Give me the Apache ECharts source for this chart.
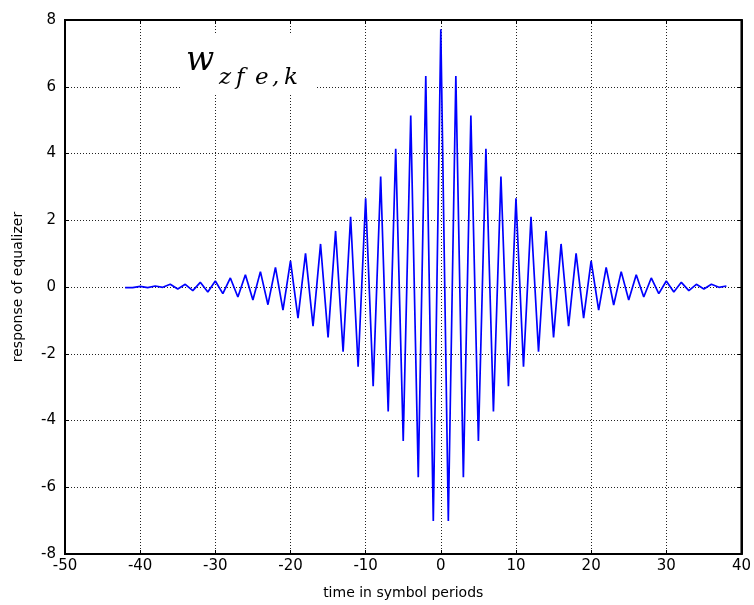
<!DOCTYPE html>
<html>
<head>
<meta charset="utf-8">
<script src="https://cdn.jsdelivr.net/npm/echarts@6/dist/echarts.min.js"></script>
<style>
    html, body { margin: 0; padding: 0; background: #fff; }
    #chart { width: 754px; height: 605px; }
</style>
</head>
<body>
<div id="chart"></div>
<script>
    // time index k (symbol periods)
    var timeSteps = [-42, -41, -40, -39, -38, -37, -36, -35, -34, -33, -32, -31, -30, -29, -28, -27,
        -26, -25, -24, -23, -22, -21, -20, -19, -18, -17, -16, -15, -14, -13, -12, -11, -10,
        -9, -8, -7, -6, -5, -4, -3, -2, -1, 0, 1, 2, 3, 4, 5, 6, 7, 8, 9, 10, 11, 12, 13, 14,
        15, 16, 17, 18, 19, 20, 21, 22, 23, 24, 25, 26, 27, 28, 29, 30, 31, 32, 33, 34, 35,
        36, 37, 38];
    // equalizer taps w_zfe,k
    var responseValues = [-0.02, -0.02, 0.02, -0.02, 0.03, -0.01, 0.08, -0.06, 0.08, -0.11, 0.14,
        -0.15, 0.18, -0.20, 0.27, -0.30, 0.37, -0.39, 0.46, -0.53, 0.59, -0.69, 0.78, -0.93,
        1.01, -1.17, 1.29, -1.51, 1.68, -1.94, 2.10, -2.39, 2.66, -2.97, 3.31, -3.73, 4.14,
        -4.61, 5.14, -5.70, 6.32, -7.01, 7.72, -7.01, 6.32, -5.70, 5.14, -4.61, 4.14, -3.73,
        3.31, -2.97, 2.66, -2.39, 2.10, -1.94, 1.68, -1.51, 1.29, -1.17, 1.01, -0.93, 0.78,
        -0.69, 0.59, -0.54, 0.46, -0.39, 0.37, -0.30, 0.27, -0.20, 0.18, -0.15, 0.14, -0.11,
        0.08, -0.06, 0.08, -0.01, 0.03];
    var xTicks = [-50, -40, -30, -20, -10, 0, 10, 20, 30, 40];
    var yTicks = [-8, -6, -4, -2, 0, 2, 4, 6, 8];

    var seriesData = timeSteps.map(function (t, i) { return [t, responseValues[i]]; });

    var labelFont = 'DejaVu Sans';
    var subFont = 'italic 23px "DejaVu Serif"';
    var gridLine = { show: true, lineStyle: { color: '#222', width: 1, type: [1, 2] } };

    var myChart = echarts.init(document.getElementById('chart'));
    var option = {
        animation: false,
        grid: { left: 65, right: 10, top: 20, bottom: 47, show: true, borderColor: '#000', borderWidth: 2 },
        xAxis: [{
            type: 'value',
            min: xTicks[0],
            max: xTicks[xTicks.length - 1],
            interval: 10,
            name: 'time in symbol periods',
            nameLocation: 'middle',
            nameGap: 32,
            nameTextStyle: { color: '#000', fontSize: 14, fontFamily: labelFont },
            axisLine: { show: true, onZero: false, lineStyle: { color: '#000', width: 2 } },
            axisTick: { show: true, inside: true, length: 4, lineStyle: { color: '#000' } },
            axisLabel: { color: '#000', fontSize: 15, fontFamily: labelFont, margin: 5 },
            splitLine: gridLine
        }, {
            type: 'value',
            position: 'top',
            min: xTicks[0],
            max: xTicks[xTicks.length - 1],
            interval: 10,
            axisLine: { show: true, onZero: false, lineStyle: { color: '#000', width: 2 } },
            axisTick: { show: true, inside: true, length: 4, lineStyle: { color: '#000' } },
            axisLabel: { show: false },
            splitLine: { show: false }
        }],
        yAxis: [{
            type: 'value',
            min: yTicks[0],
            max: yTicks[yTicks.length - 1],
            interval: 2,
            name: 'response of equalizer',
            nameLocation: 'middle',
            nameGap: 40,
            nameTextStyle: { color: '#000', fontSize: 14, fontFamily: labelFont },
            axisLine: { show: true, onZero: false, lineStyle: { color: '#000', width: 2 } },
            axisTick: { show: true, inside: true, length: 4, lineStyle: { color: '#000' } },
            axisLabel: { color: '#000', fontSize: 15, fontFamily: labelFont, margin: 9 },
            splitLine: gridLine
        }, {
            type: 'value',
            position: 'right',
            min: yTicks[0],
            max: yTicks[yTicks.length - 1],
            interval: 2,
            axisLine: { show: true, onZero: false, lineStyle: { color: '#000', width: 2 } },
            axisTick: { show: true, inside: true, length: 4, lineStyle: { color: '#000' } },
            axisLabel: { show: false },
            splitLine: { show: false }
        }],
        graphic: [{
            type: 'rect',
            z: 100,
            shape: { x: 180, y: 33, width: 137, height: 62 },
            style: { fill: '#fff' }
        }, {
            type: 'text',
            z: 101,
            x: 186,
            y: 61,
            style: {
                text: 'w',
                font: 'italic 33px "DejaVu Serif"',
                fill: '#000',
                verticalAlign: 'middle'
            }
        }, {
            type: 'text',
            z: 101,
            x: 219,
            y: 78,
            style: {
                text: '{a|z}{b|f}{c|e}{d|,}{e|k}',
                font: subFont,
                fill: '#000',
                verticalAlign: 'middle',
                rich: {
                    a: { width: 17, font: subFont },
                    b: { width: 19, font: subFont },
                    c: { width: 17, font: subFont },
                    d: { width: 12, font: subFont },
                    e: { width: 20, font: subFont }
                }
            }
        }],
        series: [{
            type: 'line',
            data: seriesData,
            showSymbol: false,
            symbol: 'none',
            lineStyle: { color: '#0000ff', width: 1.7 },
            z: 5
        }]
    };
    myChart.setOption(option);
</script>
</body>
</html>
